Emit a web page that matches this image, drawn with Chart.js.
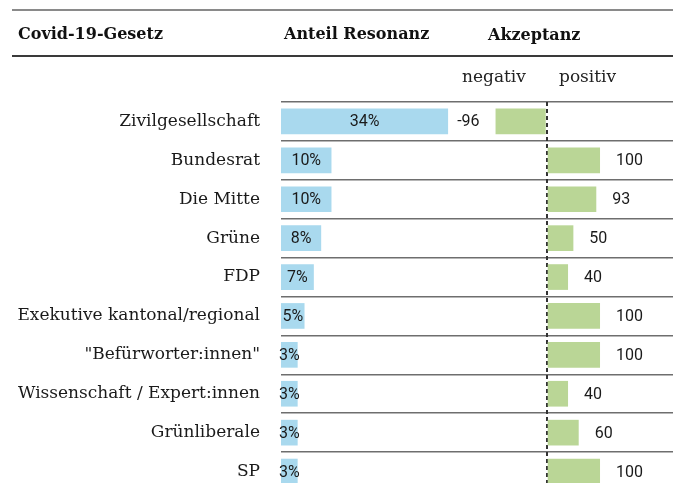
<!DOCTYPE html>
<html>
<head>
<meta charset="utf-8">
<script src="https://cdn.jsdelivr.net/npm/chart.js@4.4.1/dist/chart.umd.min.js"></script>
<style>
  html, body { margin: 0; padding: 0; background: #fff; overflow: hidden; }
  canvas { display: block; }
</style>
</head>
<body>
<canvas id="c" width="673" height="492" style="width:673px;height:492px"></canvas>
<script>
// ---- data ----
const categories = ['Zivilgesellschaft', 'Bundesrat', 'Die Mitte', 'Grüne', 'FDP',
  'Exekutive kantonal/regional', '"Befürworter:innen"', 'Wissenschaft / Expert:innen',
  'Grünliberale', 'SP'];
const resonanz = [34.1, 10.3, 10.3, 8.2, 6.7, 4.8, 3.4, 3.4, 3.4, 3.4];
const akzeptanz = [-96, 100, 93, 50, 40, 100, 100, 40, 60, 100];
const headerTitle = 'Covid-19-Gesetz';
const headerResonanz = 'Anteil Resonanz';
const headerAkzeptanz = 'Akzeptanz';
const subNegativ = 'negativ';
const subPositiv = 'positiv';

const SERIF = '"DejaVu Serif", serif';
const SANS = 'Roboto, "Liberation Sans", sans-serif';
const BLUE = '#a9d9ee';
const GREEN = '#bad696';

const headerPlugin = {
  id: 'headers',
  afterDraw(chart) {
    const ctx = chart.ctx;
    ctx.save();
    // top rules
    ctx.strokeStyle = '#8a8a8a';
    ctx.lineWidth = 2;
    ctx.beginPath(); ctx.moveTo(12, 10); ctx.lineTo(673, 10); ctx.stroke();
    ctx.strokeStyle = '#3a3a3a';
    ctx.beginPath(); ctx.moveTo(12, 56); ctx.lineTo(673, 56); ctx.stroke();
    // header texts
    ctx.fillStyle = '#111';
    ctx.textBaseline = 'middle';
    ctx.textAlign = 'left';
    ctx.font = 'bold 16px ' + SERIF;
    ctx.fillText(headerTitle, 18, 35);
    ctx.fillText(headerResonanz, 284, 35);
    ctx.fillText(headerAkzeptanz, 488, 36);
    ctx.font = '17px ' + SERIF;
    ctx.fillStyle = '#222';
    ctx.fillText(subNegativ, 462, 78);
    ctx.fillText(subPositiv, 559, 78);

    // value labels
    const m0 = chart.getDatasetMeta(0);
    const m1 = chart.getDatasetMeta(1);
    ctx.font = '16px ' + SANS;
    ctx.fillStyle = '#1a1a1a';
    m0.data.forEach((bar, i) => {
      const v = resonanz[i];
      ctx.textAlign = 'center';
      ctx.fillText(Math.round(v) + '%', (bar.x + bar.base) / 2, bar.y + 1);
    });
    m1.data.forEach((bar, i) => {
      const v = akzeptanz[i];
      if (v >= 0) {
        ctx.textAlign = 'left';
        ctx.fillText(String(v), bar.x + 16, bar.y + 1);
      } else {
        ctx.textAlign = 'right';
        ctx.fillText(String(v), bar.x - 16, bar.y + 1);
      }
    });
    ctx.restore();
  }
};

new Chart(document.getElementById('c'), {
  type: 'bar',
  data: {
    labels: categories,
    datasets: [
      { data: resonanz, xAxisID: 'x1', backgroundColor: BLUE, grouped: false,
        categoryPercentage: 1, barPercentage: 0.66 },
      { data: akzeptanz, xAxisID: 'x2', backgroundColor: GREEN, grouped: false,
        categoryPercentage: 1, barPercentage: 0.66 }
    ]
  },
  options: {
    indexAxis: 'y',
    responsive: false,
    animation: false,
    devicePixelRatio: 1,
    layout: { padding: { top: 102, left: 0, right: 0, bottom: 1 } },
    plugins: { legend: { display: false }, tooltip: { enabled: false } },
    scales: {
      y: {
        position: 'left',
        afterFit(s) {
          s.width = 281;
          s.paddingTop = 0; s.paddingBottom = 0; s.paddingLeft = 0; s.paddingRight = 0;
        },
        grid: { color: '#6e6e6e', lineWidth: 1.5, drawTicks: false, offset: true },
        border: { display: false },
        ticks: { padding: 21, color: '#1a1a1a', font: { family: SERIF, size: 17 } }
      },
      x1: {
        position: 'bottom', display: false, min: 0, max: 80
      },
      x2: {
        position: 'top', min: -498.5, max: 236.9,
        afterFit(s) { s.height = 0; s.paddingLeft = 0; s.paddingRight = 0; },
        afterBuildTicks(s) { s.ticks = [{ value: 0 }]; },
        ticks: { display: false },
        border: { display: false, dash: [4, 3] },
        grid: { drawTicks: false, color: '#333', lineWidth: 2 }
      }
    }
  },
  plugins: [headerPlugin]
});
</script>
</body>
</html>
